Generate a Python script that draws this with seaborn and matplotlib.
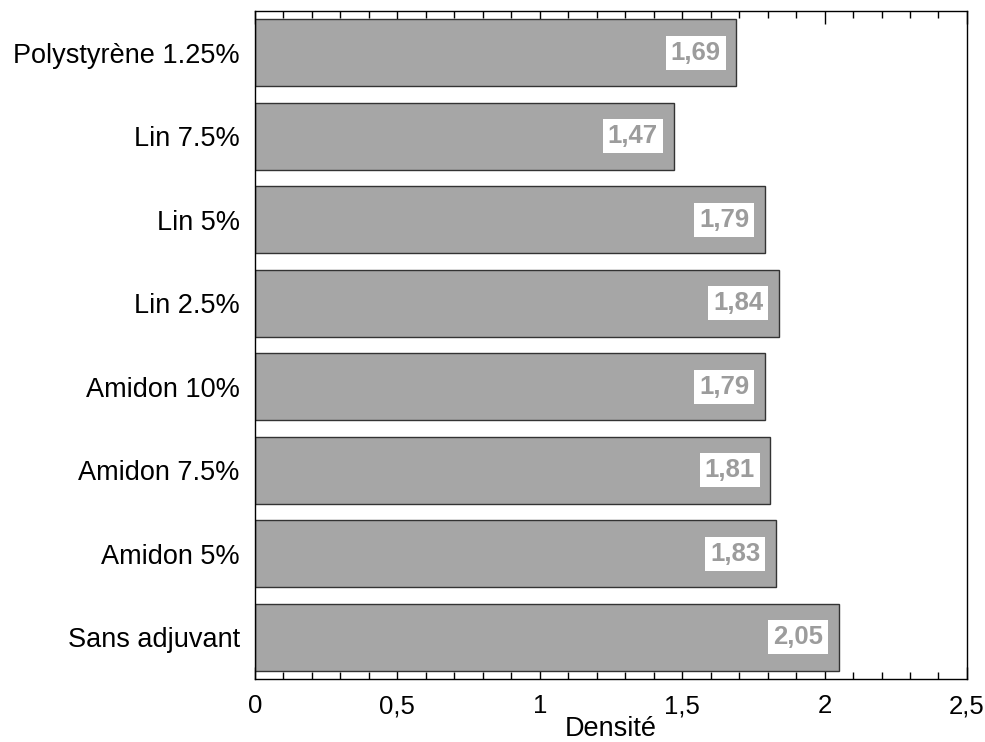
import matplotlib
matplotlib.use("Agg")
import matplotlib.pyplot as plt
import seaborn as sns
import pandas as pd
from matplotlib.ticker import MultipleLocator

categories = ["Polystyrène 1.25%", "Lin 7.5%", "Lin 5%", "Lin 2.5%",
              "Amidon 10%", "Amidon 7.5%", "Amidon 5%", "Sans adjuvant"]
values = [1.69, 1.47, 1.79, 1.84, 1.79, 1.81, 1.83, 2.05]
value_labels = ["1,69", "1,47", "1,79", "1,84", "1,79", "1,81", "1,83", "2,05"]
xticks = [0, 0.5, 1, 1.5, 2, 2.5]
xtick_labels = ["0", "0,5", "1", "1,5", "2", "2,5"]

sns.set_theme(style="white")
plt.rcParams['font.family'] = ['Liberation Sans', 'DejaVu Sans']

df = pd.DataFrame({"cat": categories, "val": values})

fig = plt.figure(figsize=(9.85, 7.42), dpi=100)
ax = fig.add_axes([0.2589, 0.0849, 0.9817 - 0.2589, 0.9852 - 0.0849])

sns.barplot(data=df, y="cat", x="val", orient="h", color="#a6a6a6",
            saturation=1, width=0.8, edgecolor="#333333", linewidth=1.0, ax=ax)

for i, (v, lab) in enumerate(zip(values, value_labels)):
    ax.text(v - 0.055, i, lab, ha="right", va="center",
            fontsize=18.5, fontweight="bold", color="#9c9c9c",
            bbox=dict(facecolor="white", edgecolor="none", pad=3.5))

ax.set_xlim(0, 2.5)
ax.set_ylim(7.5, -0.5)
ax.set_xticks(xticks)
ax.set_xticklabels(xtick_labels, fontsize=18.5)
ax.xaxis.set_minor_locator(MultipleLocator(0.1))
ax.tick_params(axis="x", which="major", direction="in", length=9, width=1,
               top=True, bottom=True, pad=11, colors="black", labelcolor="black")
ax.tick_params(axis="x", which="minor", direction="in", length=5, width=1,
               top=True, bottom=True, colors="black")
ax.tick_params(axis="y", which="both", length=0, pad=11, labelsize=19.5, labelcolor="black")
ax.set_xlabel("Densité", fontsize=19.5, labelpad=-2, color="black")
ax.set_ylabel("")
for s in ax.spines.values():
    s.set_visible(True)
    s.set_color("black")
    s.set_linewidth(1)

fig.savefig("out.png", dpi=100)
